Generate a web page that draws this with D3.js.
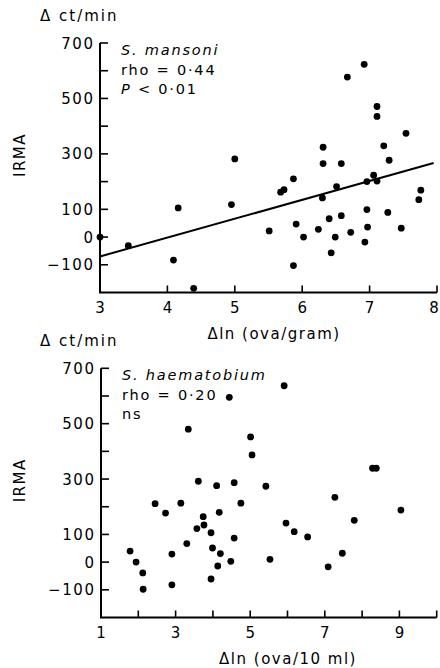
<!DOCTYPE html>
<html><head><meta charset="utf-8">
<script src="https://cdn.jsdelivr.net/npm/d3@7"></script>
<style>
body{margin:0;background:#fff;}
svg text{font-family:"DejaVu Sans",sans-serif;fill:#000;}
</style></head>
<body><svg id="c" width="440" height="668"></svg>
<script>
// ---- data: S. mansoni ----
const mansoniX = [6.92,6.67,7.11,7.11,7.54,6.31,7.21,5.00,7.29,6.31,6.58,7.06,7.11,6.96,5.87,5.73,5.68,6.51,6.30,7.76,7.73,4.16,4.95,6.96,7.27,5.91,6.40,6.58,5.51,6.24,6.97,7.47,6.72,6.02,6.49,6.93,6.43,5.87,4.09,4.39,3.42,3.00];
const mansoniY = [623,577,471,435,374,324,329,282,277,265,265,223,202,200,210,171,162,182,141,169,135,105,117,99,89,47,66,77,22,28,36,32,17,0,0,-18,-57,-103,-83,-185,-31,0];
const mansoniFitX = [3, 7.95];
const mansoniFitY = [-70, 267];
// ---- data: S. haematobium ----
const haemX = [5.91,4.44,3.34,5.01,5.05,8.28,8.38,3.61,4.10,4.57,5.42,7.27,2.45,3.14,4.75,2.73,3.74,4.17,3.76,3.57,3.95,9.04,5.96,6.18,6.54,7.79,4.57,3.30,3.99,1.78,2.90,4.20,7.47,5.53,4.48,1.94,4.13,7.09,2.12,3.95,2.13,2.90];
const haemY = [637,595,480,452,387,339,339,292,276,287,274,234,211,213,213,177,164,180,134,121,106,188,141,110,91,151,87,67,51,40,29,31,32,10,3,0,-14,-17,-39,-61,-98,-82];
// ---- ticks / labels ----
const yMajor = [700,500,300,100,0,-100];
const yMinor = [600,400,200];
const topXTicks = [3,4,5,6,7,8];
const botXTicks = [1,2,3,4,5,6,7,8,9,10];
const botXLabels = [1,3,5,7,9];
const topNotes = ["S. mansoni","rho = 0·44","P < 0·01"];
const botNotes = ["S. haematobium","rho = 0·20","ns"];

const svg = d3.select("#c");
const fmtY = d => d < 0 ? "\u2212" + Math.abs(d) : String(d);
const LS = 1.6;

function panel(o){
  const x = d3.scaleLinear().domain(o.xdom).range([o.x0, o.x1]);
  const y = d3.scaleLinear().domain([-200,700]).range([o.y0, o.y1]);
  const g = svg.append("g");
  g.append("path").attr("d", `M${x(o.xdom[0])},${y(700)}V${y(-200)}H${x(o.xdom[1])}`)
    .attr("fill","none").attr("stroke","#000").attr("stroke-width",2);
  const allY = yMajor.concat(yMinor);
  g.selectAll(".yt").data(allY).enter().append("line")
    .attr("x1", x(o.xdom[0])).attr("x2", x(o.xdom[0]) + 8)
    .attr("y1", d => y(d)).attr("y2", d => y(d))
    .attr("stroke","#000").attr("stroke-width",1.6);
  g.selectAll(".yl").data(yMajor).enter().append("text")
    .attr("x", x(o.xdom[0]) - 7 + LS).attr("y", d => y(d) + 5.5)
    .attr("text-anchor","end").attr("font-size",15).attr("letter-spacing",LS).text(fmtY);
  g.selectAll(".xt").data(o.xticks.slice(1)).enter().append("line")
    .attr("x1", d => x(d)).attr("x2", d => x(d))
    .attr("y1", y(-200)).attr("y2", y(-200) - 7)
    .attr("stroke","#000").attr("stroke-width",1.6);
  g.selectAll(".xl").data(o.xlabels).enter().append("text")
    .attr("x", d => Math.min(x(d), 434)).attr("y", y(-200) + 20)
    .attr("text-anchor","middle").attr("font-size",15).text(d => d);
  g.selectAll("circle").data(o.xs.map((v,i)=>[v,o.ys[i]])).enter().append("circle")
    .attr("cx", d => x(d[0])).attr("cy", d => y(d[1])).attr("r",3.4).attr("fill","#000");
  if (o.fitX) {
    g.append("line").attr("x1", x(o.fitX[0])).attr("y1", y(o.fitY[0]))
      .attr("x2", x(o.fitX[1])).attr("y2", y(o.fitY[1]))
      .attr("stroke","#000").attr("stroke-width",2);
  }
  o.notes.forEach((t,i) => {
    const tx = g.append("text").attr("x", x(o.xdom[0]) + 21).attr("y", y(700) + 12 + i*19.5)
      .attr("font-size",14.5).attr("letter-spacing",1.8);
    if (i === 0) tx.attr("font-style","italic").text(t);
    else if (t.startsWith("P")) { tx.append("tspan").attr("font-style","italic").text("P"); tx.append("tspan").text(t.slice(1)); }
    else tx.text(t);
  });
  g.append("text").attr("x", 40).attr("y", y(700) - 22).attr("font-size",15)
    .attr("letter-spacing",2).text("\u0394 ct/min");
  g.append("text").attr("transform", `translate(25,${y(700) + 112}) rotate(-90)`)
    .attr("text-anchor","middle").attr("font-size",15).attr("letter-spacing",1.5).text("IRMA");
  g.append("text").attr("x", o.xtitleX).attr("y", y(-200) + 46).attr("text-anchor","middle")
    .attr("font-size",15).attr("letter-spacing",1.5).text(o.xtitle);
}

panel({xdom:[3,8], x0:100, x1:437, y0:292.5, y1:43, xticks:topXTicks, xlabels:topXTicks,
  xs:mansoniX, ys:mansoniY, fitX:mansoniFitX, fitY:mansoniFitY, notes:topNotes,
  xtitle:"\u0394ln (ova/gram)", xtitleX:274});
panel({xdom:[1,10], x0:101, x1:436.7, y0:617.5, y1:368.3, xticks:botXTicks, xlabels:botXLabels,
  xs:haemX, ys:haemY, notes:botNotes, xtitle:"\u0394ln (ova/10 ml)", xtitleX:288});
</script></body></html>
